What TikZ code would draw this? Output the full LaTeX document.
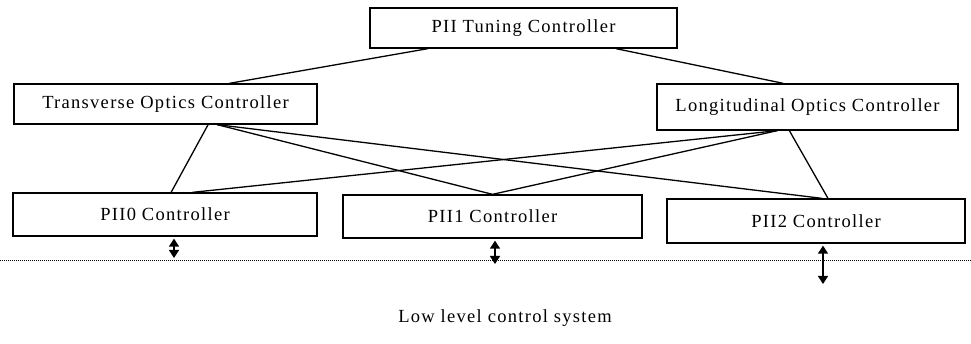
\documentclass[tikz,border=0pt]{standalone}
\usepackage{fontspec}
\setmainfont[LetterSpace=7]{Liberation Serif}
\usetikzlibrary{calc,arrows.meta}
\begin{document}
\begin{tikzpicture}[x=1pt,y=-1pt,
  ctrl/.style={draw,line width=1.3pt,inner sep=0pt,font=\fontsize{18.5}{22}\selectfont},
  link/.style={line width=1.3pt},
  busarrow/.style={line width=1.4pt,{Triangle[width=10pt,length=8pt]}-{Triangle[width=10pt,length=8pt]}}]
  \useasboundingbox (0,0) rectangle (971,344);

  % controller boxes
  \node[ctrl,minimum width=307pt,minimum height=40pt] (tune) at (523.5,28) {PII Tuning Controller};
  \node[ctrl,minimum width=303pt,minimum height=40pt] (trans) at (165.5,104) {Transverse Optics Controller};
  \node[ctrl,minimum width=301pt,minimum height=46pt] (long) at (807.5,107) {Longitudinal Optics Controller};
  \node[ctrl,minimum width=304pt,minimum height=43pt] (p0) at (165,214.5) {PII0 Controller};
  \node[ctrl,minimum width=299pt,minimum height=43pt] (p1) at (492.5,216.5) {PII1 Controller};
  \node[ctrl,minimum width=298pt,minimum height=44pt] (p2) at (816,221) {PII2 Controller};

  % tuning controller to optics controllers
  \draw[link] ($(tune.south west)!0.19!(tune.south east)$) -- ($(trans.north west)!0.71!(trans.north east)$);
  \draw[link] ($(tune.south west)!0.8!(tune.south east)$) -- ($(long.north west)!0.42!(long.north east)$);

  % optics controllers to PII controllers
  \coordinate (ta) at ($(trans.south west)!0.64!(trans.south east)$);
  \coordinate (tb) at ($(trans.south west)!0.67!(trans.south east)$);
  \coordinate (la) at ($(long.south west)!0.40!(long.south east)$);
  \coordinate (lb) at ($(long.south west)!0.44!(long.south east)$);
  \draw[link] (ta) -- ($(p0.north west)!0.52!(p0.north east)$);
  \draw[link] (tb) -- ($(p1.north west)!0.5!(p1.north east)$);
  \draw[link] (tb) -- ($(p2.north west)!0.52!(p2.north east)$);
  \draw[link] (la) -- ($(p0.north west)!0.59!(p0.north east)$);
  \draw[link] (la) -- ($(p1.north west)!0.5!(p1.north east)$);
  \draw[link] (lb) -- ($(p2.north west)!0.54!(p2.north east)$);

  % low level bus
  \coordinate (busL) at (0,261);
  \coordinate (busR) at (971,261);
  \draw[line width=1pt,densely dotted] (busL) -- (busR);
  \coordinate (a0) at (174,258);
  \coordinate (a1) at (495,264);
  \coordinate (a2) at (823,284);
  \draw[busarrow] ($(p0.south)+(9,2)$) -- (a0);
  \draw[busarrow] ($(p1.south)+(2.5,2)$) -- (a1);
  \draw[busarrow] ($(p2.south)+(7,2)$) -- (a2);

  \node[font=\fontsize{18.5}{22}\selectfont] (llc) at (505,318) {Low level control system};
\end{tikzpicture}
\end{document}
